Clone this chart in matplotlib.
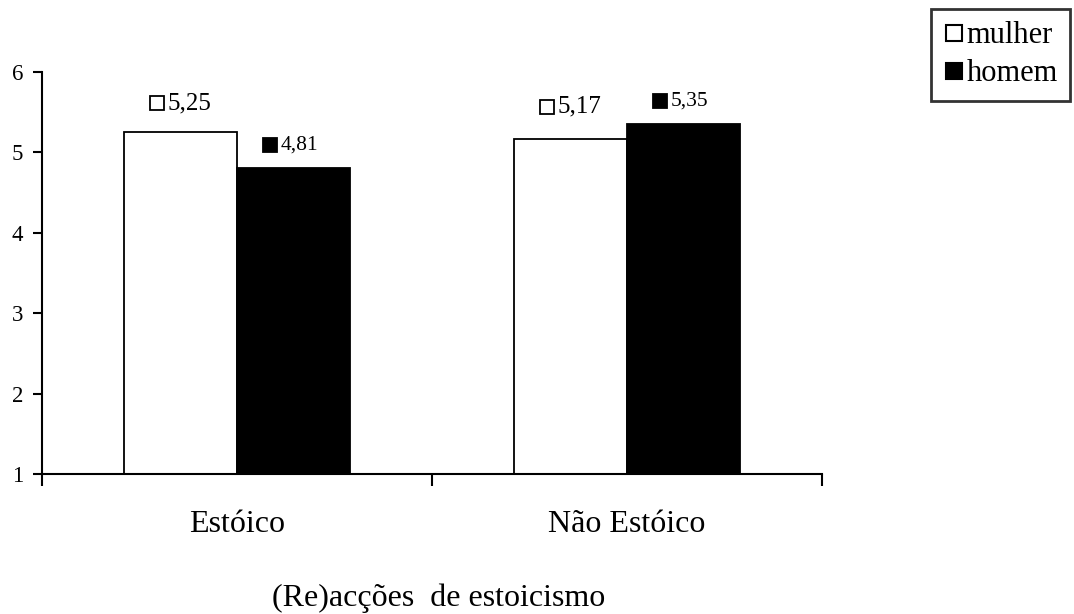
import numpy as np
import matplotlib
matplotlib.use('Agg')
import matplotlib.pyplot as plt
from matplotlib.lines import Line2D
from matplotlib.transforms import offset_copy

plt.rcParams['font.family'] = ['Liberation Serif', 'DejaVu Serif']

categories = ['Estóico', 'Não Estóico']
series = ['mulher', 'homem']
mulher = [5.25, 5.17]
homem = [4.81, 5.35]
value_labels = [['5,25', '5,17'], ['4,81', '5,35']]
yticks = [1, 2, 3, 4, 5, 6]

fig = plt.figure(figsize=(10.74, 6.14), dpi=100)
ax = fig.add_axes([0.0391, 0.228, 0.7263, 0.6547])

x = np.arange(len(categories)) + 0.5
w = 0.29
face = ['white', 'black']
values = [mulher, homem]
for i, vals in enumerate(values):
    xs = x + (i - 0.5) * w
    ax.bar(xs, np.array(vals) - 1, w, bottom=1, color=face[i],
           edgecolor='black', linewidth=1.3, zorder=2)

# value labels: marker plus number above each bar
lab_size = [18, 15.5]
rises = [[21, 23], [16, 17]]
for i, vals in enumerate(values):
    xs = x + (i - 0.5) * w
    for j, v in enumerate(vals):
        rise = rises[i][j]
        mt = offset_copy(ax.transData, fig=fig, x=-17, y=rise, units='points')
        ax.plot([xs[j]], [v], transform=mt, marker='s', ms=10.5 if i == 1 else 9.5,
                mfc=face[i], mec='black', mew=1.3, clip_on=False, zorder=3)
        tt = offset_copy(ax.transData, fig=fig, x=-9, y=rise, units='points')
        ax.text(xs[j], v, value_labels[i][j], transform=tt, ha='left',
                va='center', fontsize=lab_size[i])

ax.set_xlim(0, 2)
ax.set_ylim(1, 6)
ax.set_yticks(yticks)
ax.tick_params(axis='y', direction='out', length=6.5, width=1.5, pad=7, labelsize=16.5)
ax.set_xticks([0, 1, 2])
ax.set_xticklabels([])
ax.tick_params(axis='x', which='major', direction='out', length=8.5, width=1.5)
ax.set_xticks(x, minor=True)
ax.set_xticklabels(categories, minor=True)
ax.tick_params(axis='x', which='minor', length=0, pad=26, labelsize=23)

for s in ['top', 'right']:
    ax.spines[s].set_visible(False)
for s in ['left', 'bottom']:
    ax.spines[s].set_linewidth(1.5)

fig.text(0.5 * (272 + 605) / 1074, 1 - 598 / 614, '(Re)acções  de estoicismo',
         ha='center', va='center', fontsize=23)

handles = [Line2D([], [], ls='none', marker='s', ms=12, mfc=face[i],
                  mec='black', mew=1.5) for i in range(2)]
leg = fig.legend(handles, series, loc='upper right',
                 bbox_to_anchor=(1070 / 1074, 1 - 9 / 614),
                 fontsize=22, frameon=True, fancybox=False, edgecolor='black',
                 handlelength=0.7, handletextpad=0.05, borderpad=0.4,
                 labelspacing=0.3, borderaxespad=0)
leg.get_frame().set_linewidth(2)

fig.savefig('out.png', dpi=100)
